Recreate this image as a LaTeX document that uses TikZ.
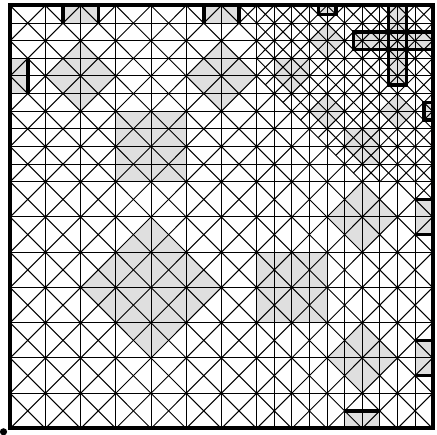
\documentclass[tikz,border=0pt]{standalone}
\definecolor{patch}{gray}{0.875}
\tikzset{thin grid/.style={line width=1pt,black},thick bar/.style={line width=3.4pt,black},fr/.style={line width=4pt,black},patchfill/.style={fill=patch,draw=none}}
\begin{document}
\begin{tikzpicture}[x=1pt,y=1pt]
\useasboundingbox (0,0) rectangle (437,435);
\begin{scope}[shift={(10.2pt,6.5pt)},x=35.2pt,y=35.25pt]
% gray patches
\foreach \a/\b in {2/10,6/10,10/2,10/6}{\fill[patchfill] (\a-1,\b)--(\a,\b+1)--(\a+1,\b)--(\a,\b-1)--cycle;}
\fill[patchfill] (2,4)--(4,6)--(6,4)--(4,2)--cycle;
\foreach \a/\b in {9/11,9/9,11/9}{\fill[patchfill] (\a-.5,\b)--(\a,\b+.5)--(\a+.5,\b)--(\a,\b-.5)--cycle;}
\fill[patchfill] (3,7) rectangle (5,9);
\fill[patchfill] (7,3) rectangle (9,5);
\fill[patchfill] (7.5,10)--(7.5,10.5)--(8.5,10.5)--(8.5,10)--(8,9.5)--cycle;
\fill[patchfill] (9.5,8)--(9.5,8.5)--(10.5,8.5)--(10.5,7.5)--(10,7.5)--cycle;
\fill[patchfill] (1.5,11.5) rectangle (2.5,12);
\fill[patchfill] (5.5,11.5) rectangle (6.5,12);
\fill[patchfill] (0,9.5) rectangle (.5,10.5);
\fill[patchfill] (9.5,0) rectangle (10.5,.5);
\fill[patchfill] (11.5,1.5) rectangle (12,2.5);
\fill[patchfill] (11.5,5.5) rectangle (12,6.5);
\fill[patchfill] (10.75,9.75) rectangle (11.25,12);
\fill[patchfill] (9.75,10.75) rectangle (12,11.25);
\fill[patchfill] (8.75,11.75) rectangle (9.25,12);
\fill[patchfill] (11.75,8.75) rectangle (12,9.25);
% grid
\foreach \i in {1,...,11}{\draw[thin grid] (\i,0)--(\i,12);}
\foreach \i in {7.5,8.5,9.5,10.5,11.5}{\draw[thin grid] (\i,0)--(\i,12);}
\foreach \i in {1,...,11}{\draw[thin grid] (0,\i)--(12,\i);}
\foreach \i in {7.5,8.5,9.5,10.5,11.5}{\draw[thin grid] (0,\i)--(12,\i);}
% cell diagonals
\foreach \k in {-11,...,11}{\pgfmathsetmacro{\sa}{max(0,\k)}\pgfmathsetmacro{\sb}{min(12,12+\k)}\draw[thin grid] (\sa,\sa-\k)--(\sb,\sb-\k);}
\foreach \k in {1,...,23}{\pgfmathsetmacro{\sa}{max(0,\k-12)}\pgfmathsetmacro{\sb}{min(12,\k)}\draw[thin grid] (\sa,\k-\sa)--(\sb,\k-\sb);}
% refined: lines going down to the right
\draw[thin grid] (7,10.5)--(10.5,7);
\draw[thin grid] (6.5,12)--(12,6.5);
\foreach \k in {19.5,20.5,...,23.5}{\draw[thin grid] (\k-12,12)--(12,\k-12);}
% refined: lines going up to the right
\foreach \x/\y/\e/\f in {7/11.5/7.5/12, 7/10.5/8.5/12, 7.25/9.75/9.5/12, 7.75/9.25/10.5/12, 8.25/8.75/11.5/12, 8.75/8.25/12/11.5, 9.25/7.75/12/10.5, 9.75/7.25/12/9.5, 10.5/7/12/8.5, 11.5/7/12/7.5}{\draw[thin grid] (\x,\y)--(\e,\f);}
% thick bars
\draw[thick bar] (1.5,11.5)--(1.5,12) (2.5,11.5)--(2.5,12) (5.5,11.5)--(5.5,12) (6.5,11.5)--(6.5,12);
\draw[thick bar] (.5,9.5)--(.5,10.5);
\draw[thick bar] (9.5,.5)--(10.5,.5);
\draw[thick bar] (11.5,1.5)--(12,1.5) (11.5,2.5)--(12,2.5) (11.5,5.5)--(12,5.5) (11.5,6.5)--(12,6.5);
\draw[thick bar] (10.75,12)--(10.75,9.75)--(11.25,9.75)--(11.25,12);
\draw[thick bar] (12,11.25)--(9.75,11.25)--(9.75,10.75)--(12,10.75);
\draw[thick bar] (8.75,12)--(8.75,11.75)--(9.25,11.75)--(9.25,12);
\draw[thick bar] (12,9.25)--(11.75,9.25)--(11.75,8.75)--(12,8.75);
% frame
\draw[fr] (0,0) rectangle (12,12);
\end{scope}
\fill (3.5,3.2) circle (3.6);
\end{tikzpicture}
\end{document}
